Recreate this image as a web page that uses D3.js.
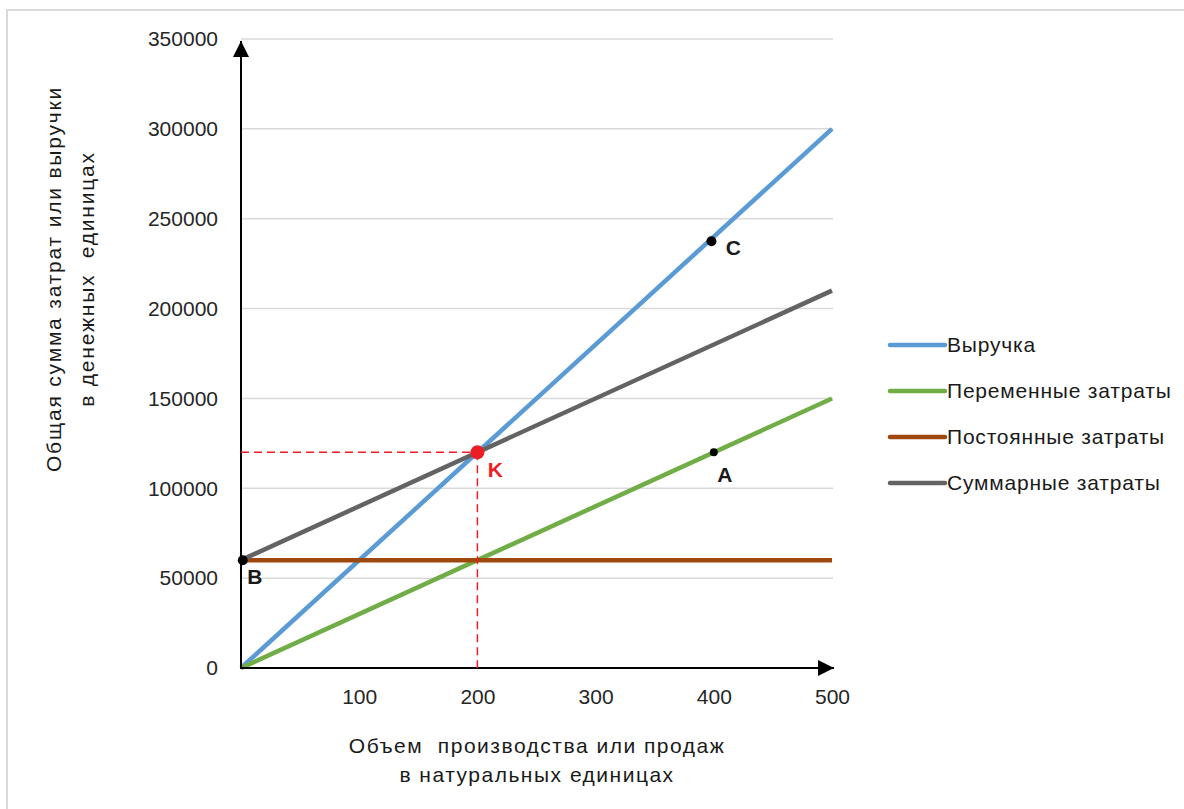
<!DOCTYPE html>
<html><head><meta charset="utf-8">
<script src="https://cdn.jsdelivr.net/npm/d3@7"></script>
<style>
html,body{margin:0;padding:0;background:#fff;}
svg{display:block;font-family:"Liberation Sans",Arial,sans-serif;}
</style></head>
<body><svg id="chart" width="1184" height="809"></svg>
<script>
// ---- data ----
const xDomain = [0, 500];
const yDomain = [0, 350000];
const xTicks = [100, 200, 300, 400, 500];
const yTicks = [0, 50000, 100000, 150000, 200000, 250000, 300000, 350000];
const volume = [0, 500];
const revenue = [0, 300000];
const variableCosts = [0, 150000];
const fixedCosts = [60000, 60000];
const totalCosts = [60000, 210000];
const seriesNames = ["Выручка", "Переменные затраты", "Постоянные затраты", "Суммарные затраты"];
const seriesColors = ["#5b9bd5", "#70ad47", "#9e480e", "#636363"];
const breakEven = {x: 200, y: 120000, label: "K"};
const markPoints = [
  {x: 398, y: 237500, label: "C", dx: 22, dy: 14},
  {x: 400, y: 120000, label: "A", dx: 11, dy: 30},
  {x: 1.5, y: 60000, label: "B", dx: 12, dy: 24}
];
const yTitle = ["Общая сумма затрат или выручки", "в денежных  единицах"];
const xTitle = ["Объем  производства или продаж", "в натуральных единицах"];

// ---- layout ----
const svg = d3.select("#chart");
const x = d3.scaleLinear().domain(xDomain).range([241, 832]);
const y = d3.scaleLinear().domain(yDomain).range([668, 39]);

// outer frame
svg.append("path").attr("d", "M7,815 L7,10 L1190,10").attr("fill", "none")
  .attr("stroke", "#d9d9d9").attr("stroke-width", 2);

// gridlines
svg.append("g").selectAll("line").data(yTicks.filter(d => d > 0)).join("line")
  .attr("x1", x(0)).attr("x2", x(500) + 1)
  .attr("y1", d => y(d)).attr("y2", d => y(d))
  .attr("stroke", "#d9d9d9").attr("stroke-width", 1.5);

// y tick labels
const yAxis = d3.axisLeft(y).tickValues(yTicks).tickSize(0).tickPadding(0).tickFormat(d3.format("d"));
const gy = svg.append("g").attr("transform", "translate(218,0)").call(yAxis);
gy.select(".domain").remove();
gy.selectAll("text").attr("font-size", 21).attr("fill", "#262626").attr("font-family", "Liberation Sans, Arial, sans-serif");

// x tick labels
const xAxis = d3.axisBottom(x).tickValues(xTicks).tickSize(0).tickPadding(0).tickFormat(d3.format("d"));
const gx = svg.append("g").attr("transform", "translate(0,689)").call(xAxis);
gx.select(".domain").remove();
gx.selectAll("text").attr("font-size", 21).attr("fill", "#262626").attr("font-family", "Liberation Sans, Arial, sans-serif");

// series lines
const allSeries = [revenue, variableCosts, fixedCosts, totalCosts];
const line = d3.line().x((d, i) => x(volume[i])).y(d => y(d));
svg.append("g").selectAll("path").data(allSeries).join("path")
  .attr("d", d => line(d)).attr("fill", "none")
  .attr("stroke", (d, i) => seriesColors[i]).attr("stroke-width", 4.5);

// axes with arrows
svg.append("defs").append("marker").attr("id", "arr")
  .attr("viewBox", "0 0 10 10").attr("refX", 10).attr("refY", 5)
  .attr("markerWidth", 16).attr("markerHeight", 16).attr("markerUnits", "userSpaceOnUse")
  .attr("orient", "auto")
  .append("path").attr("d", "M0,0 L10,5 L0,10 Z").attr("fill", "#000");
svg.append("line").attr("x1", x(0)).attr("x2", x(0)).attr("y1", y(0) + 1).attr("y2", y(350000) + 2)
  .attr("stroke", "#000").attr("stroke-width", 2).attr("marker-end", "url(#arr)");
svg.append("line").attr("x1", x(0) - 1).attr("x2", x(500) + 2).attr("y1", y(0)).attr("y2", y(0))
  .attr("stroke", "#000").attr("stroke-width", 2).attr("marker-end", "url(#arr)");

// dashed guides to break-even point
const red = "#ee1c25";
svg.append("line").attr("x1", x(0)).attr("x2", x(breakEven.x)).attr("y1", y(breakEven.y)).attr("y2", y(breakEven.y))
  .attr("stroke", red).attr("stroke-width", 1.5).attr("stroke-dasharray", "8,5");
svg.append("line").attr("x1", x(breakEven.x)).attr("x2", x(breakEven.x)).attr("y1", y(breakEven.y)).attr("y2", y(0))
  .attr("stroke", red).attr("stroke-width", 1.5).attr("stroke-dasharray", "8,5");
svg.append("circle").attr("cx", x(breakEven.x)).attr("cy", y(breakEven.y)).attr("r", 7).attr("fill", red);
svg.append("text").attr("x", x(breakEven.x) + 18).attr("y", y(breakEven.y) + 25)
  .attr("text-anchor", "middle").attr("font-size", 21).attr("font-weight", "bold").attr("fill", red)
  .text(breakEven.label);

// black points
svg.append("g").selectAll("circle").data(markPoints).join("circle")
  .attr("cx", d => x(d.x)).attr("cy", d => y(d.y)).attr("r", d => d.label === "A" ? 4 : 5).attr("fill", "#000");
svg.append("g").selectAll("text").data(markPoints).join("text")
  .attr("x", d => x(d.x) + d.dx).attr("y", d => y(d.y) + d.dy)
  .attr("text-anchor", "middle").attr("font-size", 21).attr("font-weight", "bold").attr("fill", "#1a1a1a")
  .text(d => d.label);

// legend
const lg = svg.append("g").selectAll("g").data(seriesNames).join("g")
  .attr("transform", (d, i) => `translate(890,${345 + i * 46})`);
lg.append("line").attr("x1", 0).attr("x2", 55).attr("stroke", (d, i) => seriesColors[i])
  .attr("stroke-width", 4.5).attr("stroke-linecap", "round");
lg.append("text").attr("x", 57).attr("y", 7).attr("font-size", 21).attr("letter-spacing", 0.8)
  .attr("fill", "#1a1a1a").text(d => d);

// axis titles
const yt = svg.append("text").attr("transform", "translate(0,279) rotate(-90)")
  .attr("text-anchor", "middle").attr("font-size", 21).attr("letter-spacing", 1.8).attr("fill", "#1a1a1a")
  .style("white-space", "pre");
yt.selectAll("tspan").data(yTitle).join("tspan").attr("x", 0).attr("y", (d, i) => 61 + i * 33).text(d => d);

const xt = svg.append("text").attr("text-anchor", "middle").attr("font-size", 21).attr("letter-spacing", 1.5).attr("fill", "#1a1a1a")
  .style("white-space", "pre");
xt.selectAll("tspan").data(xTitle).join("tspan").attr("x", 537).attr("y", (d, i) => 753 + i * 29).text(d => d);
</script></body></html>
